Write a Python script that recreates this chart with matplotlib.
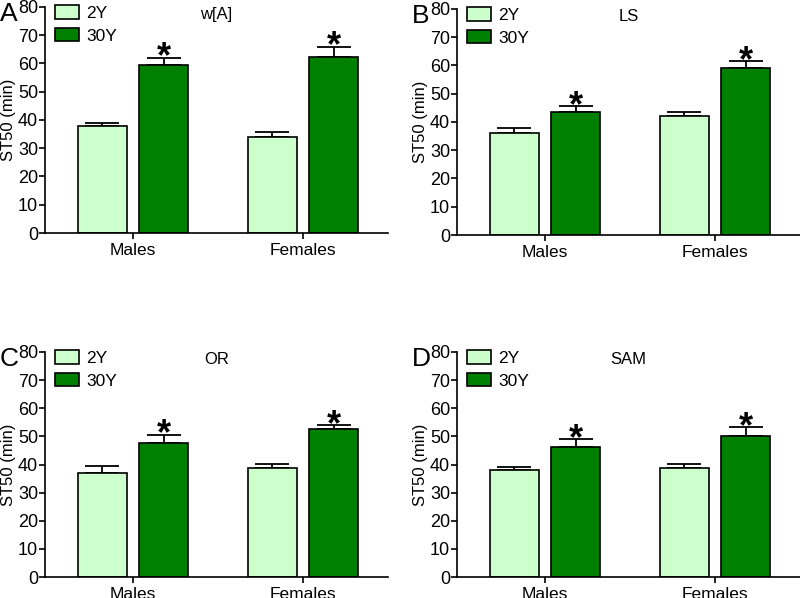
import matplotlib
matplotlib.use("Agg")
import matplotlib.pyplot as plt
import numpy as np

plt.rcParams['font.family'] = ['Liberation Sans', 'DejaVu Sans']

categories = ["Males", "Females"]
series_labels = ["2Y", "30Y"]
panel_letters = ["A", "B", "C", "D"]
panel_titles = ["w[A]", "LS", "OR", "SAM"]

# values [2Y, 30Y] per category (Males, Females)
a_2y = [37.8, 34.1]
a_30y = [59.6, 62.4]
a_2y_err = [1.3, 1.6]
a_30y_err = [2.4, 3.5]

b_2y = [36.1, 42.1]
b_30y = [43.5, 59.2]
b_2y_err = [1.8, 1.6]
b_30y_err = [2.0, 2.3]

c_2y = [37.1, 38.6]
c_30y = [47.6, 52.5]
c_2y_err = [2.5, 1.7]
c_30y_err = [2.9, 1.5]

d_2y = [37.9, 38.6]
d_30y = [46.3, 50.3]
d_2y_err = [1.3, 1.7]
d_30y_err = [2.6, 2.9]

yticks = [0, 10, 20, 30, 40, 50, 60, 70, 80]
ylabel = "ST50 (min)"
sig_30y = [True, True]

panels = [
    (a_2y, a_30y, a_2y_err, a_30y_err),
    (b_2y, b_30y, b_2y_err, b_30y_err),
    (c_2y, c_30y, c_2y_err, c_30y_err),
    (d_2y, d_30y, d_2y_err, d_30y_err),
]

light = "#CCFFCC"
dark = "#008000"

W, H = 800, 598
fig = plt.figure(figsize=(8, 5.98), dpi=100)

# axes rectangles in pixels: left, top, right, bottom
rects = [
    (45, 7, 388, 233),
    (457, 9, 800, 235),
    (45, 352, 388, 577),
    (457, 352, 800, 577),
]

x = np.arange(len(categories))
bw = 0.288
off = 0.18

for i, ((v2, v30, e2, e30), (l, t, r, b)) in enumerate(zip(panels, rects)):
    ax = fig.add_axes([l / W, (H - b) / H, (r - l) / W, (b - t) / H])
    ax.errorbar(x - off, v2, yerr=[np.zeros(len(v2)), e2], fmt='none', ecolor='black',
                elinewidth=1.3, capsize=12, capthick=1.3, zorder=1)
    ax.errorbar(x + off, v30, yerr=[np.zeros(len(v30)), e30], fmt='none', ecolor='black',
                elinewidth=1.3, capsize=12, capthick=1.3, zorder=1)
    ax.bar(x - off, v2, width=bw, color=light, edgecolor='black', linewidth=1.2,
           label=series_labels[0], zorder=2)
    ax.bar(x + off, v30, width=bw, color=dark, edgecolor='black', linewidth=1.2,
           label=series_labels[1], zorder=2)
    for j in range(len(categories)):
        if sig_30y[j]:
            ax.text(x[j] + off, v30[j] + e30[j] - 3.4, "*", ha='center', va='baseline',
                    fontsize=26, fontweight='bold', zorder=3)
    ax.set_xlim(-0.518, 1.5)
    ax.set_ylim(0, 80)
    ax.set_yticks(yticks)
    ax.set_xticks(x)
    ax.set_xticklabels(categories, fontsize=12.5)
    ax.tick_params(axis='y', labelsize=13, length=4, width=1.2, pad=1, direction='out')
    ax.tick_params(axis='x', length=4, width=1.2, pad=3, direction='out')
    for s in ['top', 'right']:
        ax.spines[s].set_visible(False)
    for s in ['left', 'bottom']:
        ax.spines[s].set_linewidth(1.2)
    ax.set_ylabel(ylabel, fontsize=12, labelpad=1)
    ax.text(0.5, 0.965, panel_titles[i], transform=ax.transAxes, ha='center', va='center',
            fontsize=12)
    leg = ax.legend(loc='upper left', bbox_to_anchor=(0.03, 1.01), frameon=False,
                    fontsize=12.5, handlelength=1.35, handleheight=0.85,
                    labelspacing=0.4, handletextpad=0.45, borderpad=0, borderaxespad=0)
    for p in leg.get_patches():
        p.set_linewidth(1.2)
    fig.text((l - 45) / W, 1 - (t + 14) / H, panel_letters[i], fontsize=19,
             ha='left', va='baseline')

fig.savefig("out.png", dpi=100)
